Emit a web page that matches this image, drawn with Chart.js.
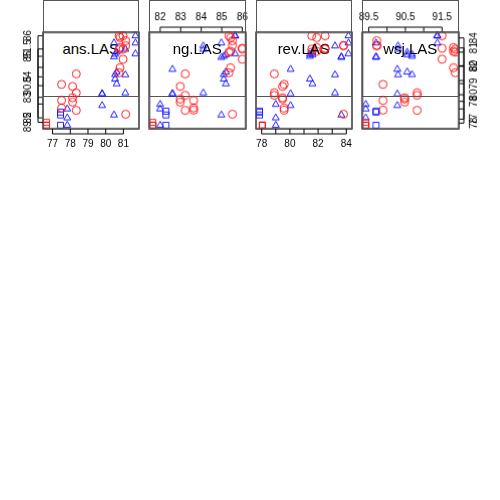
<!DOCTYPE html>
<html>
<head>
<meta charset="utf-8">
<script src="https://cdn.jsdelivr.net/npm/chart.js@4"></script>
<style>
  body { margin: 0; background: #fff; }
  #wrap { position: relative; width: 500px; height: 500px; }
  #wrap canvas { position: absolute; }
  .diag { position: absolute; border: 1px solid #555; box-sizing: border-box;
          display: flex; align-items: center; justify-content: center;
          font-family: "Liberation Sans", Arial, sans-serif; font-size: 15px; color: #000; }
</style>
</head>
<body>
<div id="wrap"></div>
<script>
// variables of the pairs plot
var varNames = ["ans.LAS", "ng.LAS", "rev.LAS", "wsj.LAS"];
var ans = [76.66, 77.45, 77.51, 78.13, 78.34, 80.76, 80.81, 80.98, 81.13, 77.83, 79.80, 81.11, 81.68, 80.47, 80.53, 80.62];
var ng  = [81.64, 82.28, 83.63, 82.98, 83.22, 85.35, 85.43, 86.00, 85.52, 82.00, 82.60, 84.10, 85.65, 84.98, 85.10, 85.20];
var rev = [78.05, 77.85, 79.60, 79.48, 78.90, 81.55, 81.90, 82.50, 83.80, 79.00, 80.05, 83.20, 84.15, 83.65, 81.42, 81.60];
var wsj = [89.42, 89.70, 89.89, 90.48, 90.82, 91.86, 91.81, 91.50, 89.72, 89.42, 90.28, 90.30, 91.37, 89.70, 90.68, 90.55];
// marker group of each point
var group = ["redSquare", "blueSquare", "red", "red", "red", "red", "red", "red", "red",
             "blue", "blue", "blue", "blue", "blue", "blue", "blue"];
// tick values and which ones get a label
var ticksAns = [77, 78, 79, 80, 81];
var ticksNg  = [82, 83, 84, 85, 86];
var ticksRev = [78, 79, 80, 81, 82, 83, 84];
var labelsRev = [78, 80, 82, 84];
var ticksWsj = [89.5, 90, 90.5, 91, 91.5];
var labelsWsj = [89.5, 90.5, 91.5];

var series = [ans, ng, rev, wsj];
var tickSets = [ticksAns, ticksNg, ticksRev, ticksWsj];
var labelSets = [ticksAns, ticksNg, labelsRev, labelsWsj];

var styles = {
	red:        { pointStyle: "circle",   color: "#ff2020" },
	blue:       { pointStyle: "triangle", color: "#2020ff" },
	redSquare:  { pointStyle: "rect",     color: "#ff2020" },
	blueSquare: { pointStyle: "rect",     color: "#2020ff" }
};

var START = 42.5, SIZE = 96.5, PITCH = 106.5, PAD = 32;
var FONT = '10px "Liberation Sans", Arial, sans-serif';

// R style range: data range extended by 4%
function range(v) {
	var lo = Math.min.apply(null, v), hi = Math.max.apply(null, v), d = (hi - lo) * 0.04;
	return { min: lo - d, max: hi + d };
}

// draws border plus optional axis with the chart's own scales
var panelPlugin = {
	id: "panel",
	afterDraw: function(chart) {
		var o = chart.options.plugins.panel, a = chart.chartArea, ctx = chart.ctx;
		ctx.save();
		ctx.strokeStyle = "#555";
		ctx.lineWidth = 1;
		ctx.strokeRect(a.left, a.top, a.right - a.left, a.bottom - a.top);
		ctx.strokeStyle = "#000";
		ctx.fillStyle = "#000";
		ctx.font = FONT;
		if (o.xSide) {
			var sx = chart.scales.x, yEdge = o.xSide == "top" ? a.top : a.bottom, dir = o.xSide == "top" ? -1 : 1;
			var px = o.xTicks.map(function(t) { return sx.getPixelForValue(t); });
			ctx.beginPath();
			ctx.moveTo(px[0], yEdge + dir * 5); ctx.lineTo(px[px.length - 1], yEdge + dir * 5);
			px.forEach(function(p) { ctx.moveTo(p, yEdge + dir * 5); ctx.lineTo(p, yEdge); });
			ctx.stroke();
			ctx.textAlign = "center";
			ctx.textBaseline = "middle";
			o.xLabels.forEach(function(t) { ctx.fillText(String(t), sx.getPixelForValue(t), yEdge + dir * 15); });
		}
		if (o.ySide) {
			var sy = chart.scales.y, xEdge = o.ySide == "left" ? a.left : a.right, d2 = o.ySide == "left" ? -1 : 1;
			var py = o.yTicks.map(function(t) { return sy.getPixelForValue(t); });
			ctx.beginPath();
			ctx.moveTo(xEdge + d2 * 5, py[0]); ctx.lineTo(xEdge + d2 * 5, py[py.length - 1]);
			py.forEach(function(p) { ctx.moveTo(xEdge + d2 * 5, p); ctx.lineTo(xEdge, p); });
			ctx.stroke();
			ctx.textAlign = "center";
			ctx.textBaseline = "middle";
			o.yLabels.forEach(function(t) {
				ctx.save();
				ctx.translate(xEdge + d2 * 15, sy.getPixelForValue(t));
				ctx.rotate(-Math.PI / 2);
				ctx.fillText(String(t), 0, 0);
				ctx.restore();
			});
		}
		ctx.restore();
	}
};

var wrap = document.getElementById("wrap");

for (var i = 0; i < 4; i++) {
	for (var j = 0; j < 4; j++) {
		var left = START + j * PITCH, top = START + i * PITCH;
		if (i == j) {
			var d = document.createElement("div");
			d.className = "diag";
			d.style.left = left + "px"; d.style.top = top + "px";
			d.style.width = SIZE + "px"; d.style.height = SIZE + "px";
			d.textContent = varNames[i];
			wrap.appendChild(d);
			continue;
		}
		// canvas = panel plus margin for the axes
		var box = document.createElement("div");
		box.style.position = "absolute";
		box.style.left = (left - PAD) + "px";
		box.style.top = (top - PAD) + "px";
		box.style.width = (SIZE + 2 * PAD) + "px";
		box.style.height = (SIZE + 2 * PAD) + "px";
		var canvas = document.createElement("canvas");
		canvas.width = SIZE + 2 * PAD; canvas.height = SIZE + 2 * PAD;
		canvas.style.width = (SIZE + 2 * PAD) + "px";
		canvas.style.height = (SIZE + 2 * PAD) + "px";
		canvas.style.left = "0px"; canvas.style.top = "0px";
		box.appendChild(canvas);
		wrap.appendChild(box);

		// one dataset per marker group
		var datasets = Object.keys(styles).map(function(g) {
			var pts = [];
			for (var k = 0; k < group.length; k++) {
				if (group[k] == g) pts.push({ x: series[j][k], y: series[i][k] });
			}
			return {
				data: pts,
				pointStyle: styles[g].pointStyle,
				borderColor: styles[g].color,
				backgroundColor: "rgba(0,0,0,0)",
				pointRadius: styles[g].pointStyle == "rect" ? 4.2 : 4,
				borderWidth: 1,
				clip: false
			};
		});

		var xSide = null, ySide = null;
		if (i == 0 && j % 2 == 1) xSide = "top";
		if (i == 3 && j % 2 == 0) xSide = "bottom";
		if (j == 0 && i % 2 == 1) ySide = "left";
		if (j == 3 && i % 2 == 0) ySide = "right";

		var rx = range(series[j]), ry = range(series[i]);
		new Chart(canvas.getContext("2d"), {
			type: "scatter",
			data: { datasets: datasets },
			options: {
				responsive: false,
				animation: false,
				devicePixelRatio: 1,
				layout: { padding: PAD },
				scales: {
					x: { type: "linear", display: false, min: rx.min, max: rx.max },
					y: { type: "linear", display: false, min: ry.min, max: ry.max }
				},
				plugins: {
					legend: { display: false },
					tooltip: { enabled: false },
					panel: {
						xSide: xSide, xTicks: tickSets[j], xLabels: labelSets[j],
						ySide: ySide, yTicks: tickSets[i], yLabels: labelSets[i]
					}
				}
			},
			plugins: [panelPlugin]
		});
	}
}
</script>
</body>
</html>
